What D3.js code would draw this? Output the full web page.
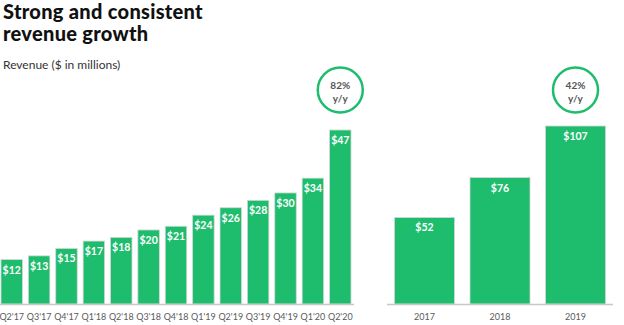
<!DOCTYPE html>
<html><head><meta charset="utf-8">
<script src="https://cdn.jsdelivr.net/npm/d3@7"></script>
<style>body{margin:0;background:#fff}svg{display:block}</style>
</head><body><svg id="c" width="624" height="325"></svg>
<script>
const quarters = ["Q2'17","Q3'17","Q4'17","Q1'18","Q2'18","Q3'18","Q4'18","Q1'19","Q2'19","Q3'19","Q4'19","Q1'20","Q2'20"];
const quarterlyRevenue = [12,13,15,17,18,20,21,24,26,28,30,34,47];
const years = ["2017","2018","2019"];
const annualRevenue = [52,76,107];
const growthLabels = ["82%","42%"];

const green = "#1ebd6e", font = "Lato, 'Open Sans', sans-serif";
const svg = d3.select("#c");
const base = 304;

svg.append("text").attr("x",3).attr("y",19).attr("font-family",font).attr("font-weight",900)
  .attr("font-size",20).attr("letter-spacing",0.3).attr("fill","#111").text("Strong and consistent");
svg.append("text").attr("x",3).attr("y",41).attr("font-family",font).attr("font-weight",900)
  .attr("font-size",20).attr("letter-spacing",0.3).attr("fill","#111").text("revenue growth");
svg.append("text").attr("x",3).attr("y",69).attr("font-family",font)
  .attr("font-size",12).attr("fill","#333").text("Revenue ($ in millions)");

function panel(cats, vals, xr, pi, po, yMax, hMax, lineX, growth){
  const x = d3.scaleBand().domain(cats).range(xr).paddingInner(pi).paddingOuter(po);
  const y = d3.scaleLinear().domain([0,yMax]).range([base, base-hMax]);
  const g = svg.append("g");
  g.selectAll("rect").data(vals).join("rect")
    .attr("x",(d,i)=>x(cats[i])).attr("y",d=>y(d))
    .attr("width",x.bandwidth()).attr("height",d=>base-y(d))
    .attr("fill",green).attr("stroke","#d6d6d6").attr("stroke-width",0.8);
  g.selectAll("text.v").data(vals).join("text").attr("class","v")
    .attr("x",(d,i)=>x(cats[i])+x.bandwidth()/2).attr("y",d=>y(d)+14)
    .attr("text-anchor","middle").attr("font-family",font).attr("font-weight",700)
    .attr("font-size",10.5).attr("fill","#fff").text(d=>"$"+d);
  g.append("line").attr("x1",lineX[0]).attr("x2",lineX[1]).attr("y1",base+0.5).attr("y2",base+0.5)
    .attr("stroke","#c8c8c8").attr("stroke-width",1.5);
  const ax = d3.axisBottom(x).tickSize(0).tickPadding(10);
  const a = svg.append("g").attr("transform",`translate(0,${base})`).call(ax);
  a.select(".domain").remove();
  a.selectAll("text").attr("font-family",font).attr("font-size",9).attr("fill","#5a5a5a");
  const last = cats[cats.length-1];
  const cx = x(last)+x.bandwidth()/2, cy = 90;
  svg.append("circle").attr("cx",cx).attr("cy",cy).attr("r",22.5)
    .attr("fill","#fff").attr("stroke",green).attr("stroke-width",2.5);
  svg.append("text").attr("x",cx).attr("y",cy-1).attr("text-anchor","middle").attr("font-family",font)
    .attr("font-weight",700).attr("font-size",10).attr("fill","#555").text(growth);
  svg.append("text").attr("x",cx).attr("y",cy+12).attr("text-anchor","middle").attr("font-family",font)
    .attr("font-weight",700).attr("font-size",10).attr("fill","#555").text("y/y");
}
panel(quarters, quarterlyRevenue, [0,352], 0.215, 0.036, 47, 174, [0,354], growthLabels[0]);
panel(years, annualRevenue, [387,613], 0.205, 0.099, 107, 178, [387,613], growthLabels[1]);
</script></body></html>
